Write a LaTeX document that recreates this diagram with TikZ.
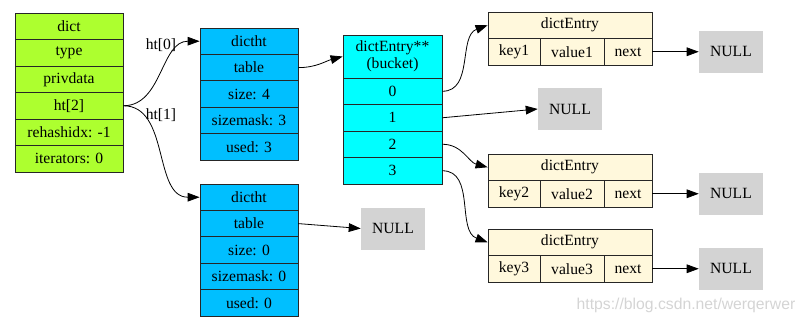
\documentclass[tikz,border=0pt]{standalone}
\usepackage{fontspec}
\setmainfont{Liberation Serif}
\newfontfamily\marksans{Liberation Sans}
\usepackage{xcolor}
\usetikzlibrary{arrows.meta}

\definecolor{dictgreen}{HTML}{ADFF2F}
\definecolor{htblue}{HTML}{00BFFF}
\definecolor{bucketcyan}{HTML}{00FFFF}
\definecolor{entryyellow}{HTML}{FFF8DC}
\definecolor{nullgray}{HTML}{D3D3D3}

\tikzset{
  cell/.style={draw=black!85, line width=0.6pt, inner sep=0pt, minimum height=19.8pt,
    font=\fontsize{11.7}{12.6}\selectfont},
  nullbox/.style={fill=nullgray, inner sep=0pt, minimum width=48pt,
    minimum height=31.5pt, font=\fontsize{11.7}{12.6}\selectfont},
  ptr/.style={-{Triangle[length=9pt,width=6.5pt]}, black, line width=0.6pt},
}

\begin{document}
\begin{tikzpicture}[x=0.75pt,y=-0.75pt]
\useasboundingbox (0,0) rectangle (806,322);

% dict
\foreach \txt [count=\i] in {dict,type,privdata,{ht[2]},{rehashidx: -1},{iterators: 0}}
  \node[cell, fill=dictgreen, minimum width=81pt] (d\i) at (69,{13+26.5*(\i-0.5)}) {\txt};

% the two dictht
\foreach \txt [count=\i] in {dictht,table,{size: 4},{sizemask: 3},{used: 3}}
  \node[cell, fill=htblue, minimum width=73.5pt] (a\i) at (249,{28+26.4*(\i-0.5)}) {\txt};
\foreach \txt [count=\i] in {dictht,table,{size: 0},{sizemask: 0},{used: 0}}
  \node[cell, fill=htblue, minimum width=73.5pt] (b\i) at (249,{184+26.4*(\i-0.5)}) {\txt};

% bucket array
\node[cell, fill=bucketcyan, minimum width=74.25pt, minimum height=32.25pt, align=center]
  (kh) at (392.5,56.5) {dictEntry**\\(bucket)};
\foreach \i in {0,...,3}
  \node[cell, fill=bucketcyan, minimum width=74.25pt] (k\i) at (392.5,{78+26.5*(\i+0.5)}) {\i};

% entries, each with its NULL
\foreach \n/\y in {1/12,2/154,3/229} {
  \node[cell, fill=entryyellow, minimum width=123pt] (e\n) at (570,{\y+13.25}) {dictEntry};
  \node[cell, fill=entryyellow, minimum width=39pt] (key\n) at (514,{\y+39.75}) {key\n};
  \node[cell, fill=entryyellow, minimum width=48pt] (val\n) at (572,{\y+39.75}) {value\n};
  \node[cell, fill=entryyellow, minimum width=36pt] (next\n) at (628,{\y+39.75}) {next};
  \node[nullbox] (null\n) at (731,{\y+39.75}) {NULL};
  \draw[ptr] (next\n.east) -- (null\n.west);
}
\node[nullbox] (nullk) at (570,109) {NULL};
\node[nullbox] (nullb) at (393,228.5) {NULL};

% pointers
\draw[ptr] (d4.east) to[out=0,in=180] (a1.west);
\draw[ptr] (d4.east) to[out=0,in=180] (b1.west);
\node[font=\fontsize{11.7}{12.6}\selectfont] (lbl0) at (161,45) {ht[0]};
\node[font=\fontsize{11.7}{12.6}\selectfont] (lbl1) at (161,115) {ht[1]};
\draw[ptr] (a2.east) to[out=0,in=195] (kh.west);
\draw[ptr] (b2.east) -- (nullb.west);
\draw[ptr] (k0.east) to[out=0,in=200] (e1.west);
\draw[ptr] (k1.east) -- (nullk.west);
\draw[ptr] (k2.east) to[out=0,in=165] (e2.west);
\draw[ptr] (k3.east) to[out=0,in=160] (e3.west);

\node[text=black!17, font=\marksans\fontsize{11.8}{13}\selectfont] (mark) at (686,305)
  {https://blog.csdn.net/werqerwer};
\end{tikzpicture}
\end{document}
